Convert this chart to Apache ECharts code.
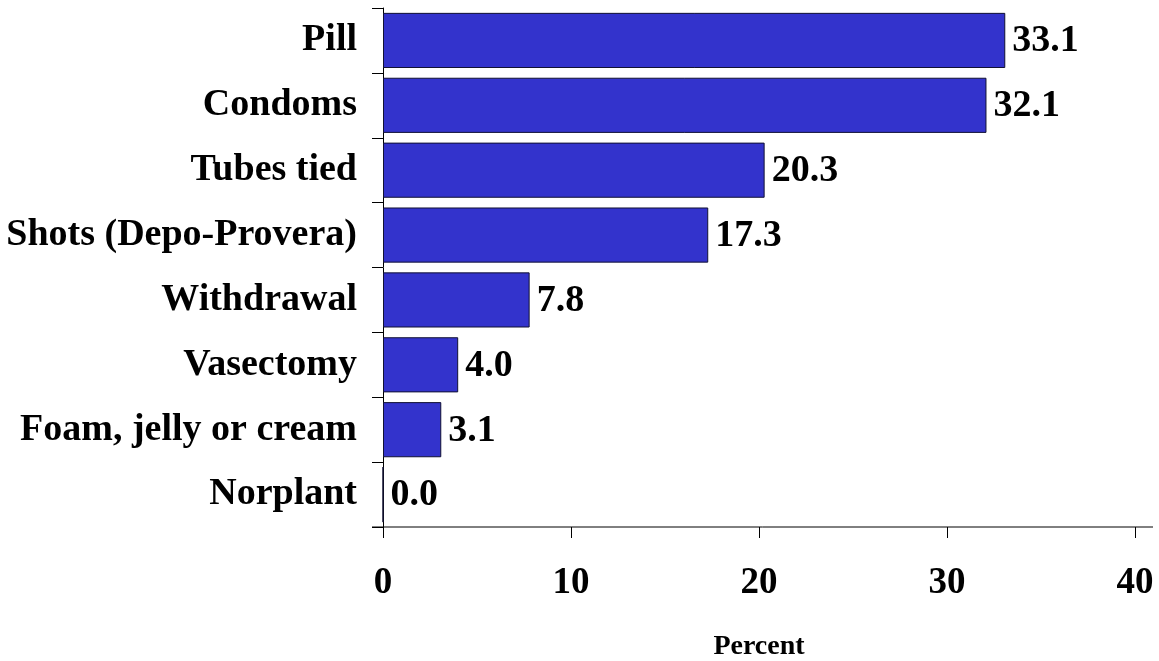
<!DOCTYPE html>
<html>
<head>
<meta charset="utf-8">
<script src="https://cdn.jsdelivr.net/npm/echarts@6/dist/echarts.min.js"></script>
<style>html,body{margin:0;padding:0;background:#fff}#c{width:1159px;height:661px}</style>
</head>
<body>
<div id="c"></div>
<script>
const categories = ["Pill", "Condoms", "Tubes tied", "Shots (Depo-Provera)", "Withdrawal", "Vasectomy", "Foam, jelly or cream", "Norplant"];
const values = [33.1, 32.1, 20.3, 17.3, 7.8, 4.0, 3.1, 0.0];
const xTicks = [0, 10, 20, 30, 40];
const xName = "Percent";

const FONT = "'Liberation Serif', 'Times New Roman', serif";
const chart = echarts.init(document.getElementById('c'));
chart.setOption({
  animation: false,
  backgroundColor: '#fff',
  grid: { left: 383, right: 24, top: 8, bottom: 134, containLabel: false, outerBoundsMode: 'none' },
  xAxis: {
    type: 'value', min: xTicks[0], max: xTicks[xTicks.length - 1], interval: 10,
    splitLine: { show: false },
    axisLine: { show: false },
    axisTick: { show: true, length: 11, lineStyle: { color: '#000', width: 1 } },
    axisLabel: { margin: 38, fontFamily: FONT, fontWeight: 'bold', fontSize: 37, color: '#000' },
    name: xName, nameLocation: 'middle', nameGap: 106,
    nameTextStyle: { fontFamily: FONT, fontWeight: 'bold', fontSize: 28, color: '#000' }
  },
  yAxis: {
    type: 'category', data: categories, inverse: true,
    axisLine: { show: true, lineStyle: { color: '#000', width: 1 } },
    axisTick: { show: true, length: 11, lineStyle: { color: '#000', width: 1 } },
    axisLabel: { margin: 26, fontFamily: FONT, fontWeight: 'bold', fontSize: 38, color: '#000' }
  },
  series: [{
    type: 'bar', data: values, barCategoryGap: '15%',
    itemStyle: { color: '#3333CC', borderColor: '#111133', borderWidth: 1 },
    label: {
      show: true, position: 'right', distance: 7, offset: [0, 1],
      formatter: p => p.value.toFixed(1),
      fontFamily: FONT, fontWeight: 'bold', fontSize: 38, color: '#000'
    }
  }]
});
const p0 = chart.convertToPixel({ gridIndex: 0 }, [xTicks[0], categories[categories.length - 1]]);
const p1 = chart.convertToPixel({ gridIndex: 0 }, [xTicks[xTicks.length - 1], categories[categories.length - 1]]);
const gridRect = chart.getModel().getComponent('grid').coordinateSystem.getRect();
const yBottom = gridRect.y + gridRect.height;
chart.setOption({
  graphic: [{
    type: 'line', silent: true,
    shape: { x1: p0[0] - 11, y1: yBottom, x2: p1[0] + 18, y2: yBottom },
    style: { stroke: '#000', lineWidth: 1 }
  }]
});
</script>
</body>
</html>
